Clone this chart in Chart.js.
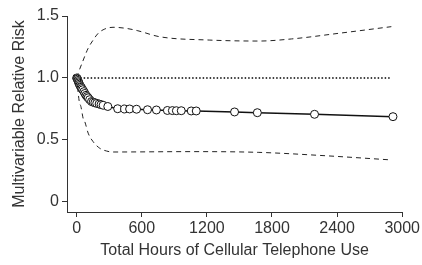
<!DOCTYPE html>
<html>
<head>
<meta charset="utf-8">
<script src="https://cdn.jsdelivr.net/npm/chart.js@4/dist/chart.umd.min.js"></script>
<style>
  body { margin: 0; background: #fff; }
  canvas { display: block; }
</style>
</head>
<body>
<canvas id="riskChart" width="422" height="265"></canvas>
<script>
// point estimates
const hours = [0, 4, 8, 12, 16, 20, 25, 30, 36, 42, 48, 56, 67, 76, 86, 96, 106, 120, 137, 152,
  168, 185, 207, 225, 244, 287, 378, 442, 488, 552, 653, 735, 836, 882, 919, 964, 1056, 1102, 1455, 1665,
  2192, 2915];
const risk = [1.0, 0.995, 0.99, 0.98, 0.97, 0.96, 0.95, 0.94, 0.93, 0.925, 0.915, 0.905, 0.89, 0.875, 0.86, 0.85, 0.84, 0.825, 0.81, 0.805,
  0.80, 0.795, 0.79, 0.785, 0.78, 0.77, 0.752, 0.75, 0.75, 0.748, 0.744, 0.742, 0.738, 0.737, 0.736, 0.736, 0.734, 0.734, 0.726, 0.72,
  0.707, 0.688];

// confidence band (dashed)
const upperHours = [0, 15, 61, 106, 152, 198, 259, 335, 458, 564, 763, 1221, 1679, 1981, 2439, 2900];
const upper = [1.0, 1.04, 1.145, 1.24, 1.306, 1.36, 1.395, 1.409, 1.40, 1.381, 1.333, 1.306, 1.298, 1.315, 1.363, 1.414];
const lowerHours = [0, 24, 39, 61, 76, 106, 152, 213, 275, 330, 1066, 1679, 2289, 2900];
const lower = [1.0, 0.81, 0.77, 0.67, 0.645, 0.555, 0.486, 0.433, 0.411, 0.403, 0.406, 0.40, 0.373, 0.339];

// reference line at RR = 1
const refHours = [0, 2900];
const refRisk = [1, 1];

const xTicks = [0, 600, 1200, 1800, 2400, 3000];
const xTickLabels = ['0', '600', '1200', '1800', '2400', '3000'];
const yTicks = [0, 0.5, 1.0, 1.5];
const yTickLabels = ['0', '0.5', '1.0', '1.5'];

const toXY = (xs, ys) => xs.map((x, i) => ({ x: x, y: ys[i] }));

Chart.defaults.font.family = "'Liberation Sans', Arial, sans-serif";
Chart.defaults.font.size = 16;
Chart.defaults.color = '#333';

const ctx = document.getElementById('riskChart').getContext('2d');
new Chart(ctx, {
  type: 'scatter',
  data: {
    datasets: [
      {
        data: toXY(hours, risk),
        showLine: true,
        borderColor: '#111',
        borderWidth: 1.5,
        pointRadius: 4,
        pointBorderWidth: 1,
        pointBackgroundColor: '#fff',
        pointBorderColor: '#111',
        order: 0
      },
      {
        data: toXY(upperHours, upper),
        showLine: true,
        borderColor: '#222',
        borderWidth: 1,
        borderDash: [5, 4],
        pointRadius: 0,
        cubicInterpolationMode: 'monotone',
        order: 1
      },
      {
        data: toXY(lowerHours, lower),
        showLine: true,
        borderColor: '#222',
        borderWidth: 1,
        borderDash: [5, 4],
        pointRadius: 0,
        cubicInterpolationMode: 'monotone',
        order: 2
      },
      {
        data: toXY(refHours, refRisk),
        showLine: true,
        borderColor: '#000',
        borderWidth: 1.5,
        borderDash: [1.5, 2],
        pointRadius: 0,
        order: 3
      }
    ]
  },
  options: {
    responsive: false,
    animation: false,
    layout: { padding: { top: 16, right: 16, left: 0, bottom: 0 } },
    plugins: { legend: { display: false }, tooltip: { enabled: false } },
    scales: {
      x: {
        type: 'linear',
        min: -89,
        max: 3000,
        afterBuildTicks: s => { s.ticks = xTicks.map(v => ({ value: v })); },
        afterFit: s => { s.height = 53; },
        grid: { drawOnChartArea: false, drawTicks: true, tickLength: 5, color: '#333' },
        border: { color: '#333', width: 1 },
        ticks: {
          padding: 2,
          maxRotation: 0,
          callback: (v) => xTickLabels[xTicks.indexOf(v)]
        },
        title: {
          display: true,
          text: 'Total Hours of Cellular Telephone Use',
          padding: { top: 0, bottom: 5 }
        }
      },
      y: {
        min: -0.081,
        max: 1.5,
        afterBuildTicks: s => { s.ticks = yTicks.map(v => ({ value: v })); },
        afterFit: s => { s.width = 67; },
        grid: { drawOnChartArea: false, drawTicks: true, tickLength: 5, color: '#333' },
        border: { color: '#333', width: 1 },
        ticks: {
          padding: 3,
          callback: (v) => yTickLabels[yTicks.indexOf(v)]
        },
        title: {
          display: true,
          text: 'Multivariable Relative Risk',
          padding: { top: 10, bottom: 0 }
        }
      }
    }
  }
});
</script>
</body>
</html>
